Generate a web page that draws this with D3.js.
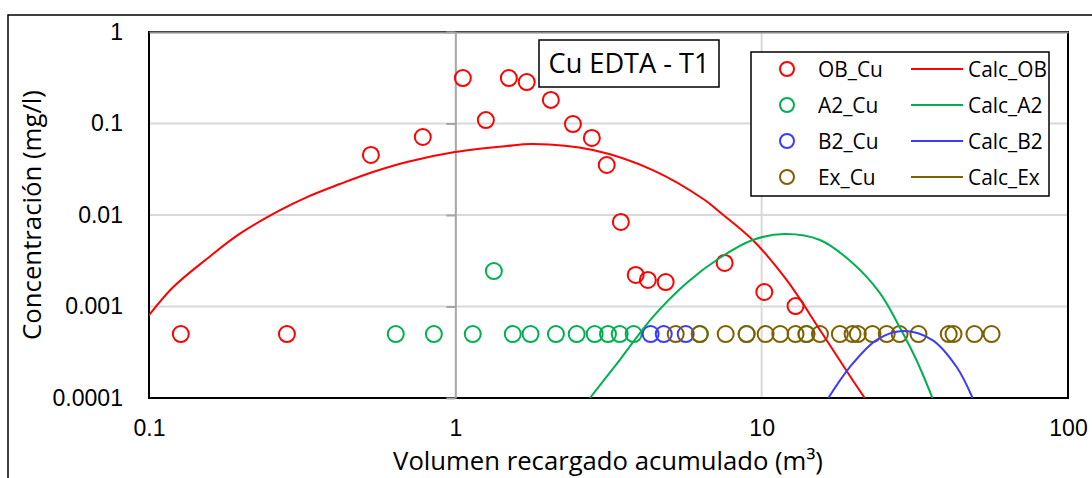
<!DOCTYPE html>
<html>
<head>
<meta charset="utf-8">
<script src="https://cdn.jsdelivr.net/npm/d3@7"></script>
<style>
	body { margin: 0; background: #fff; }
	svg { display: block; font-family: "Open Sans", sans-serif; }
</style>
</head>
<body>
<script>
// measured points (x = volume m3, y = concentration mg/l)
const obX = [0.127, 0.282, 0.53, 0.783, 1.058, 1.258, 1.495, 1.71, 2.05, 2.42, 2.79, 3.12, 3.47, 3.88, 4.25, 4.86, 7.57, 10.2, 12.9];
const obY = [0.0005, 0.0005, 0.0453, 0.0712, 0.314, 0.109, 0.314, 0.284, 0.181, 0.0987, 0.0695, 0.0352, 0.00839, 0.00221, 0.00195, 0.00185, 0.00299, 0.00144, 0.00101];

const a2X = [0.639, 0.851, 1.14, 1.336, 1.54, 1.76, 2.13, 2.49, 2.85, 3.15, 3.44, 3.82, 6.28, 8.93, 14.0];
const a2Y = [0.0005, 0.0005, 0.0005, 0.00244, 0.0005, 0.0005, 0.0005, 0.0005, 0.0005, 0.0005, 0.0005, 0.0005, 0.0005, 0.0005, 0.0005];

const b2X = [4.34, 4.79, 5.65];
const b2Y = [0.0005, 0.0005, 0.0005];

const exX = [5.24, 6.28, 7.63, 8.93, 10.3, 11.5, 12.9, 14.0, 15.5, 18.0, 19.8, 20.6, 23.0, 25.6, 28.2, 32.5, 40.8, 42.3, 49.5, 56.3];
const exY = [0.0005, 0.0005, 0.0005, 0.0005, 0.0005, 0.0005, 0.0005, 0.0005, 0.0005, 0.0005, 0.0005, 0.0005, 0.0005, 0.0005, 0.0005, 0.0005, 0.0005, 0.0005, 0.0005, 0.0005];

// calculated curves
const calcObX = [0.099, 0.12, 0.155, 0.198, 0.268, 0.328, 0.42, 0.538, 0.695, 0.996, 1.47, 1.79, 2.81, 4.41, 6.52, 7.29, 9.35, 12.06, 15.5, 19.8, 21.7];
const calcObY = [0.00077, 0.00163, 0.00335, 0.00625, 0.0113, 0.0157, 0.0218, 0.0295, 0.038, 0.0488, 0.0568, 0.0597, 0.0513, 0.031, 0.0146, 0.0108, 0.00533, 0.00195, 0.000554, 0.000157, 0.0001];

const calcA2X = [2.75, 3.44, 4.41, 5.69, 7.29, 9.35, 11.9, 15.5, 19.8, 24.3, 28.2, 32.0, 36.1];
const calcA2Y = [0.0001, 0.00026, 0.000767, 0.00181, 0.00339, 0.00533, 0.0062, 0.00533, 0.00299, 0.00141, 0.000597, 0.00026, 0.0001];

const calcB2X = [16.5, 19.4, 23.7, 28.8, 36.1, 43.3, 48.8];
const calcB2Y = [0.0001, 0.000218, 0.00043, 0.00054, 0.00043, 0.000218, 0.0001];

const calcExX = [];
const calcExY = [];

const xTicks = [0.1, 1, 10, 100];
const yTicks = [0.0001, 0.001, 0.01, 0.1, 1];

const pointNames = ["OB_Cu", "A2_Cu", "B2_Cu", "Ex_Cu"];
const lineNames = ["Calc_OB", "Calc_A2", "Calc_B2", "Calc_Ex"];
const colors = ["#ff0000", "#00b050", "#3b3bff", "#7f6000"];

const w = 1092, h = 478,
	  plotL = 149, plotR = 1068, plotT = 32, plotB = 398;

const svg = d3.select("body").append("svg")
	.attr("width", w)
	.attr("height", h);

// pick a font size so a sample text gets the width seen in the picture
const fitSize = (sample, target, base) => {
	const t = svg.append("text").text(sample).attr("font-size", base);
	const len = t.node().getComputedTextLength();
	t.remove();
	return base * target / len;
};

const tickSize = fitSize("0.0001", 72, 20),
	  axisTitleSize = fitSize("Volumen recargado acumulado (m³)", 430, 20),
	  yTitleSize = fitSize("Concentración (mg/l)", 250, 20),
	  titleSize = fitSize("Cu EDTA - T1", 161, 20),
	  legendSize = fitSize("Calc_OB", 79, 20);

// outer chart frame
svg.append("rect")
	.attr("x", 8).attr("y", 15)
	.attr("width", 1100).attr("height", 500)
	.attr("fill", "#fff")
	.attr("stroke", "#000")
	.attr("stroke-width", 1.5);

const xScale = d3.scaleLog().domain([0.1, 100]).range([plotL, plotR]),
	  yScale = d3.scaleLog().domain([0.0001, 1]).range([plotB, plotT]);

// gridlines
svg.append("g")
	.selectAll("line")
	.data(yTicks.slice(1, -1))
	.enter().append("line")
	.attr("x1", plotL).attr("x2", plotR)
	.attr("y1", d => yScale(d)).attr("y2", d => yScale(d))
	.attr("stroke", "#d9d9d9").attr("stroke-width", 2);

svg.append("g")
	.selectAll("line")
	.data([10])
	.enter().append("line")
	.attr("x1", d => xScale(d)).attr("x2", d => xScale(d))
	.attr("y1", plotT).attr("y2", plotB)
	.attr("stroke", "#d9d9d9").attr("stroke-width", 2);

// plot border
svg.append("rect")
	.attr("x", plotL).attr("y", plotT)
	.attr("width", plotR - plotL).attr("height", plotB - plotT)
	.attr("fill", "none")
	.attr("stroke", "#000")
	.attr("stroke-width", 2);

// x axis sits on y = 1, y axis sits on x = 1 (both grey)
svg.append("g")
	.attr("transform", "translate(0," + yScale(1) + ")")
	.call(d3.axisTop(xScale).tickValues([]).tickSizeOuter(0))
	.call(g => g.select(".domain").attr("stroke", "#8c8c8c").attr("stroke-width", 2));

svg.append("g")
	.attr("transform", "translate(" + xScale(1) + ",0)")
	.call(d3.axisLeft(yScale).tickValues(yTicks).tickSize(9).tickSizeOuter(0).tickFormat(""))
	.call(g => g.select(".domain").attr("stroke", "#a6a6a6").attr("stroke-width", 2))
	.call(g => g.selectAll(".tick line").attr("stroke", "#a6a6a6").attr("stroke-width", 2));

// tick labels (low position)
svg.append("g")
	.attr("transform", "translate(123,0)")
	.call(d3.axisLeft(yScale).tickValues(yTicks).tickSize(0).tickPadding(0).tickFormat(d => String(d)))
	.call(g => g.select(".domain").remove())
	.call(g => g.selectAll("text").attr("font-size", tickSize).attr("font-family", null).attr("fill", "#000"));

svg.append("g")
	.attr("transform", "translate(0," + (plotB + 22) + ")")
	.call(d3.axisBottom(xScale).tickValues(xTicks).tickSize(0).tickPadding(0).tickFormat(d => String(d)))
	.call(g => g.select(".domain").remove())
	.call(g => g.selectAll("text").attr("font-size", tickSize).attr("font-family", null).attr("fill", "#000"));

// axis titles
svg.append("text")
	.text("Volumen recargado acumulado (m³)")
	.attr("x", 608)
	.attr("y", 470)
	.attr("text-anchor", "middle")
	.attr("font-size", axisTitleSize)
	.attr("fill", "#000");

svg.append("text")
	.text("Concentración (mg/l)")
	.attr("transform", "translate(41,215) rotate(-90)")
	.attr("text-anchor", "middle")
	.attr("font-size", yTitleSize)
	.attr("fill", "#000");

// clip for curves
svg.append("clipPath").attr("id", "plotClip")
	.append("rect")
	.attr("x", plotL).attr("y", plotT)
	.attr("width", plotR - plotL).attr("height", plotB - plotT);

const zip = (xs, ys) => xs.map((x, i) => [x, ys[i]]);

const pointSets = [zip(obX, obY), zip(a2X, a2Y), zip(b2X, b2Y), zip(exX, exY)];
const lineSets = [zip(calcObX, calcObY), zip(calcA2X, calcA2Y), zip(calcB2X, calcB2Y), zip(calcExX, calcExY)];

pointSets.forEach((set, i) => {
	svg.append("g")
		.selectAll("circle")
		.data(set)
		.enter().append("circle")
		.attr("cx", d => xScale(d[0]))
		.attr("cy", d => yScale(d[1]))
		.attr("r", 8)
		.attr("fill", "none")
		.attr("stroke", colors[i])
		.attr("stroke-width", 2);
});

const line = d3.line()
	.x(d => xScale(d[0]))
	.y(d => yScale(d[1]))
	.curve(d3.curveCatmullRom.alpha(0.5));

lineSets.forEach((set, i) => {
	if (!set.length) return;
	svg.append("path")
		.datum(set)
		.attr("clip-path", "url(#plotClip)")
		.attr("d", line)
		.attr("fill", "none")
		.attr("stroke", colors[i])
		.attr("stroke-width", 2);
});

// title box
svg.append("rect")
	.attr("x", 539).attr("y", 40)
	.attr("width", 180).attr("height", 47)
	.attr("fill", "#fff")
	.attr("stroke", "#000")
	.attr("stroke-width", 1.5);

svg.append("text")
	.text("Cu EDTA - T1")
	.attr("x", 629).attr("y", 73)
	.attr("text-anchor", "middle")
	.attr("font-size", titleSize)
	.attr("fill", "#000");

// legend
const legend = svg.append("g");
legend.append("rect")
	.attr("x", 751).attr("y", 52)
	.attr("width", 298).attr("height", 144)
	.attr("fill", "#fff")
	.attr("stroke", "#000")
	.attr("stroke-width", 1.5);

const rows = legend.selectAll("g.row")
	.data(pointNames)
	.enter().append("g")
	.attr("class", "row")
	.attr("transform", (d, i) => "translate(0," + (69 + i * 36) + ")");

rows.append("circle")
	.attr("cx", 787).attr("cy", 0).attr("r", 7)
	.attr("fill", "none")
	.attr("stroke", (d, i) => colors[i])
	.attr("stroke-width", 2);

rows.append("text")
	.text(d => d)
	.attr("x", 818).attr("y", 0)
	.attr("dy", "0.36em")
	.attr("font-size", legendSize)
	.attr("fill", "#000");

rows.append("line")
	.attr("x1", 911).attr("x2", 963)
	.attr("y1", 0).attr("y2", 0)
	.attr("stroke", (d, i) => colors[i])
	.attr("stroke-width", 2);

rows.append("text")
	.text((d, i) => lineNames[i])
	.attr("x", 968).attr("y", 0)
	.attr("dy", "0.36em")
	.attr("font-size", legendSize)
	.attr("fill", "#000");
</script>
</body>
</html>
